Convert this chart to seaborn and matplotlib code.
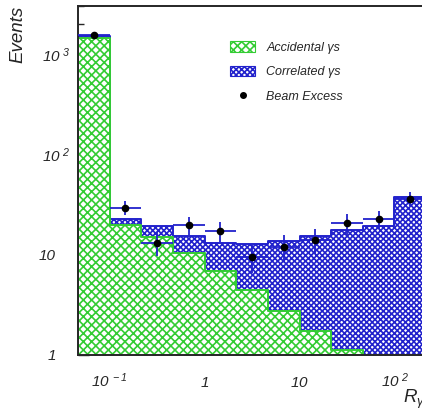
import numpy as np
import seaborn as sns
import matplotlib.pyplot as plt
from matplotlib.patches import Patch
from matplotlib.lines import Line2D
from matplotlib.ticker import FixedLocator, NullFormatter
from matplotlib.transforms import ScaledTranslation

# bin edges, three bins per decade
bin_edges = [0.0464, 0.1, 0.215, 0.464, 1.0, 2.15, 4.64, 10.0, 21.5, 46.4, 100.0, 215.0]

# stacked prediction
accidental = [1430, 19.8, 15.1, 10.5, 6.8, 4.45, 2.77, 1.73, 1.12, 0, 0]
correlated = [85, 2.7, 4.2, 4.9, 6.4, 8.35, 10.9, 13.7, 16.5, 19.5, 37.3]

# data points
beam_excess = [1550, 29.4, 13.2, 19.8, 17.3, 9.55, 12.0, 14.0, 20.6, 22.5, 35.9]
beam_err = [40, 4.8, 3.5, 4.0, 3.9, 3.0, 3.6, 3.9, 4.8, 4.5, 5.7]

x_ticks = [0.1, 1, 10, 100]
x_labels = [r"$10^{\ -1}$", r"$1$", r"$10$", r"$10^{\ 2}$"]
y_ticks = [1, 10, 100, 1000]
y_labels = ["1", "10", r"$10^{\ 2}$", r"$10^{\ 3}$"]

green = "#33cc33"
green_hatch = "#66e066"
blue = "#2222cc"
blue_hatch = "#3a3ad0"

sns.set_style("ticks")
plt.rcParams["font.family"] = ["Liberation Sans", "DejaVu Sans"]
plt.rcParams["font.style"] = "italic"
plt.rcParams["mathtext.fontset"] = "custom"
plt.rcParams["mathtext.rm"] = "Liberation Sans:italic"
plt.rcParams["mathtext.it"] = "Liberation Sans:italic"
plt.rcParams["hatch.linewidth"] = 1.2

edges = np.array(bin_edges)
centers = np.sqrt(edges[:-1] * edges[1:])
total = np.array(accidental) + np.array(correlated)

fig = plt.figure(figsize=(4.22, 4.17), dpi=100)
ax = fig.add_axes([78 / 422, 62 / 417, 348 / 422, 349 / 417])

# correlated on top of accidental: draw the total first, then accidental over it
with plt.rc_context({"hatch.color": blue_hatch}):
    sns.histplot(x=centers, weights=total, bins=bin_edges, element="step", fill=True,
                 alpha=1, facecolor="white", edgecolor=blue, hatch="xxxxxx",
                 linewidth=1.4, ax=ax)
with plt.rc_context({"hatch.color": green_hatch}):
    sns.histplot(x=centers, weights=accidental, bins=bin_edges, element="step", fill=True,
                 alpha=1, facecolor="white", edgecolor=green, hatch="xxxx",
                 linewidth=1.4, ax=ax)

xerr = [centers - edges[:-1], edges[1:] - centers]
ax.errorbar(centers, beam_excess, xerr=xerr, yerr=beam_err, fmt="o", color="black",
            ms=4.5, ecolor=blue, elinewidth=1.3, capsize=0, zorder=5)

ax.set_xscale("log")
ax.set_yscale("log")
ax.set_xlim(bin_edges[0], bin_edges[-1])
ax.set_ylim(1, 3000)

ax.xaxis.set_major_locator(FixedLocator(x_ticks))
ax.set_xticklabels(x_labels)
ax.yaxis.set_major_locator(FixedLocator(y_ticks))
ax.set_yticklabels(y_labels)
ax.xaxis.set_minor_formatter(NullFormatter())
ax.yaxis.set_minor_formatter(NullFormatter())
ax.tick_params(which="both", direction="in", labelsize=11, width=1)
ax.tick_params(which="major", length=8)
ax.tick_params(which="minor", length=4)
ax.tick_params(axis="x", pad=23)
ax.tick_params(axis="y", pad=6)
for lab in ax.get_xticklabels():
    lab.set_va("baseline")
# plain labels line up with the base of the power labels
shift = ScaledTranslation(-0.14, 0, fig.dpi_scale_trans)
for tick, lab in zip(ax.yaxis.get_major_ticks(), y_labels):
    if "^" not in lab:
        tick.label1.set_transform(tick.label1.get_transform() + shift)
for sp in ax.spines.values():
    sp.set_linewidth(1.4)

ax.set_ylabel("Events", fontsize=13.5, loc="top")
ax.yaxis.set_label_coords(-52 / 348, 1.0)
ax.set_xlabel(r"$R_{\gamma}$", fontsize=13.5, loc="right")
ax.xaxis.set_label_coords(1.0, -33 / 349)

handles = [
    Patch(facecolor="white", edgecolor=green, hatch="xxxx", linewidth=0.8),
    Patch(facecolor="white", edgecolor=blue, hatch="xxxxxx", linewidth=0.8),
    Line2D([], [], marker="o", color="black", ls="none", ms=4),
]
fig.legend(handles, ["Accidental γs", "Correlated γs", "Beam Excess"],
           loc="upper left", bbox_to_anchor=(224 / 422, 1 - 35 / 417),
           frameon=False, fontsize=9, borderpad=0, handlelength=2.0,
           handleheight=0.9, handletextpad=0.9, labelspacing=0.95)

fig.savefig("out.png", dpi=100)
